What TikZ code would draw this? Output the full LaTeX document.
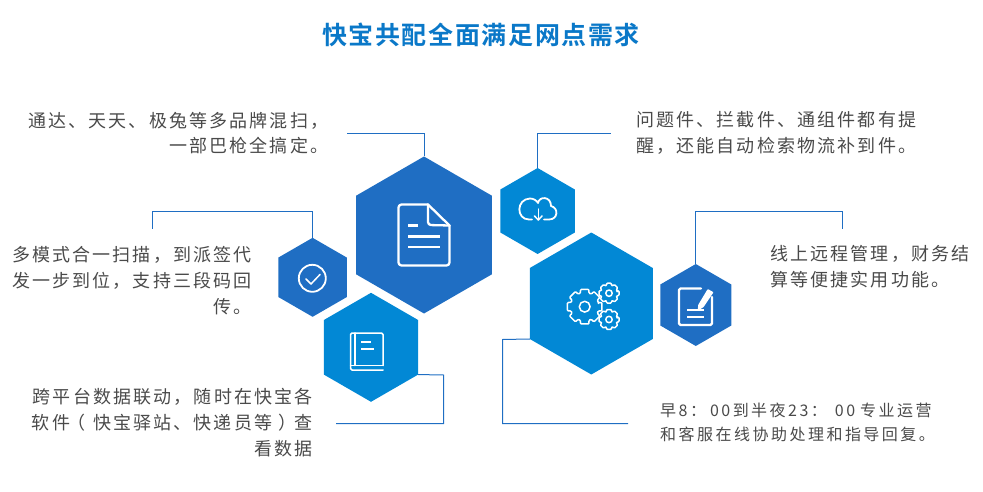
\documentclass[tikz,border=0pt]{standalone}
\usepackage{fontspec}
\usetikzlibrary{shapes.geometric}
\newfontfamily\cjkbody[LetterSpace=12]{Noto Sans CJK SC}
\newfontfamily\cjksmall[LetterSpace=15.5]{Noto Sans CJK SC}
\newfontfamily\cjktitle[LetterSpace=6.5]{Noto Sans CJK SC Bold}
\definecolor{hexblue}{HTML}{1F6EC3}
\definecolor{hexsky}{HTML}{0288D5}
\definecolor{linkblue}{HTML}{1F6EC3}
\definecolor{bodygray}{HTML}{4A4A4A}
\definecolor{titleblue}{HTML}{0A78C8}
\tikzset{
  hexdark/.style={regular polygon,regular polygon sides=6,shape border rotate=30,fill=hexblue,inner sep=0pt,outer sep=0pt},
  hexlight/.style={regular polygon,regular polygon sides=6,shape border rotate=30,fill=hexsky,inner sep=0pt,outer sep=0pt},
  link/.style={draw=linkblue,line width=1pt},
  icon/.style={draw=white,line width=2.3pt,line cap=round,line join=round},
  thinicon/.style={draw=white,line width=1.5pt,line cap=round,line join=round},
  bodytext/.style={text=bodygray,inner sep=0pt,font=\cjkbody\fontsize{18}{25.7}\selectfont},
  smalltext/.style={text=bodygray,inner sep=0pt,font=\cjksmall\fontsize{16}{23.5}\selectfont},
}
\newcommand{\gearicon}[4]{% x, y, outer radius, hole radius
  \draw[thinicon,rounded corners=1pt,shift={(#1,#2)}] (-16:#3*0.8)
    \foreach \a in {0,45,...,315}{ -- ({\a-14}:#3) -- ({\a+14}:#3) -- ({\a+17}:#3*0.8) -- ({\a+28}:#3*0.8)} -- cycle;
  \draw[thinicon] (#1,#2) circle (#4);
}
\begin{document}
\begin{tikzpicture}[x=1pt,y=-1pt]
\useasboundingbox (0,0) rectangle (983,492);

\node[text=titleblue,inner sep=0pt,font=\cjktitle\fontsize{25}{30}\selectfont] (title) at (481,35) {快宝共配全面满足网点需求};

% hexagons
\node[hexdark,minimum size=157pt] (hexdoc) at (424,235) {};
\node[hexdark,minimum size=79pt] (hexcheck) at (312.6,277.3) {};
\node[hexlight,minimum size=109pt] (hexbook) at (371,347.3) {};
\node[hexlight,minimum size=86pt] (hexcloud) at (537.6,211) {};
\node[hexlight,minimum size=142pt] (hexgear) at (591.3,303.5) {};
\node[hexdark,minimum size=82pt] (hexnote) at (695.8,305) {};

% texts
\node[bodytext,anchor=east,align=right] (textdoc) at (328.5,133) {通达、天天、极兔等多品牌混扫，\\一部巴枪全搞定。};
\node[bodytext,anchor=west,align=left] (textcloud) at (636,133) {问题件、拦截件、通组件都有提\\醒，还能自动检索物流补到件。};
\node[bodytext,anchor=east,align=right] (textcheck) at (252,280.5) {多模式合一扫描，到派签代\\发一步到位，支持三段码回\\传。};
\node[bodytext,anchor=east,align=right] (textbook) at (313,422.5) {跨平台数据联动，随时在快宝各\\软件\makebox[23pt][l]{\kern-3pt（}快宝驿站、快递员等\makebox[22.5pt][l]{\kern6pt）}查\\看数据};
\node[bodytext,anchor=west,align=left] (textnote) at (770,267) {线上远程管理，财务结\\算等便捷实用功能。};
\node[smalltext,anchor=west,align=left] (textgear) at (660,422.5) {早8：\kern4pt 00到半夜23：\kern8pt 00\kern5pt 专业运营\\和客服在线协助处理和指导回复。};

% connectors
\coordinate (docend) at (347,133.5);
\coordinate (cloudend) at (611,133.5);
\coordinate (checkturn) at (312.6,211.5);
\coordinate (checkend) at (152,229);
\coordinate (noteturn) at (695.8,211.5);
\coordinate (noteend) at (842,229);
\coordinate (bookturn) at (443.5,375);
\coordinate (bookend) at (336,423.5);
\coordinate (gearturn) at (502.5,339.5);
\coordinate (gearend) at (628,423.5);
\draw[link] (hexdoc.90) |- (docend);
\draw[link] (hexcloud.90) |- (cloudend);
\draw[link] (hexcheck.90) -- (checkturn) -| (checkend);
\draw[link] (hexnote.90) -- (noteturn) -| (noteend);
\draw[link] (hexbook.-30) -- (bookturn) |- (bookend);
\draw[link] (hexgear.210) -- (gearturn) |- (gearend);

% document icon
\draw[icon,rounded corners=3pt] (428,204.5) -- (398.5,204.5) -- (398.5,265.5) -- (449.5,265.5) -- (449.5,225.5);
\draw[icon] (428,204.5) -- (449.5,225.5);
\draw[icon,rounded corners=3pt] (428,204.5) -- (428,225) -- (449.5,225.5);
\draw[icon,line cap=butt] (408,225.5) -- (418,225.5);
\draw[icon,line cap=butt] (408,236.5) -- (440,236.5);
\draw[icon,line cap=butt] (408,247) -- (440,247);

% check icon
\draw[thinicon,line width=1.8pt] (312.3,278.3) circle (13.5);
\draw[thinicon] (306,279) -- (311,284) -- (320,274.5);

% book icon
\draw[thinicon,rounded corners=1.5pt] (383,365.5) -- (383,333) -- (350.5,333) -- (350.5,370) -- (383,370);
\draw[thinicon] (350.5,365.5) -- (383,365.5);
\draw[thinicon] (355,333) -- (355,365.5);
\draw[thinicon,line cap=butt] (361,342) -- (371,342);
\draw[thinicon,line cap=butt] (361,349) -- (374,349);

% cloud icon
\draw[thinicon,line width=1.8pt] (532,219.5) -- (529,219.5) .. controls (516,219.5) and (516,199) .. (530,198.5) .. controls (534,198.5) and (537,201) .. (538,203) .. controls (539,196) and (551,196) .. (551,206) .. controls (559,208) and (558,219.5) .. (549,219.5) -- (544,219.5);
\draw[thinicon] (538.3,209) -- (538.3,219.5);
\draw[thinicon] (534.5,216) -- (538.3,220) -- (542,216);

% gear icon
\gearicon{584.7}{306.7}{17.8}{5.4}
\gearicon{609}{293.2}{10.3}{3.2}
\gearicon{609}{319.5}{10.3}{3.2}

% note icon
\draw[icon,rounded corners=1.5pt] (701,288.5) -- (679,288.5) -- (679,325) -- (712,325) -- (712,297);
\draw[thinicon,fill=white] (699,305) -- (708,290) -- (712.5,292.5) -- (703,306.5) -- (698.5,309.5) -- cycle;
\draw[icon,line cap=butt] (687,310) -- (704,310);
\draw[icon,line cap=butt] (687,317) -- (704,317);
\end{tikzpicture}
\end{document}
